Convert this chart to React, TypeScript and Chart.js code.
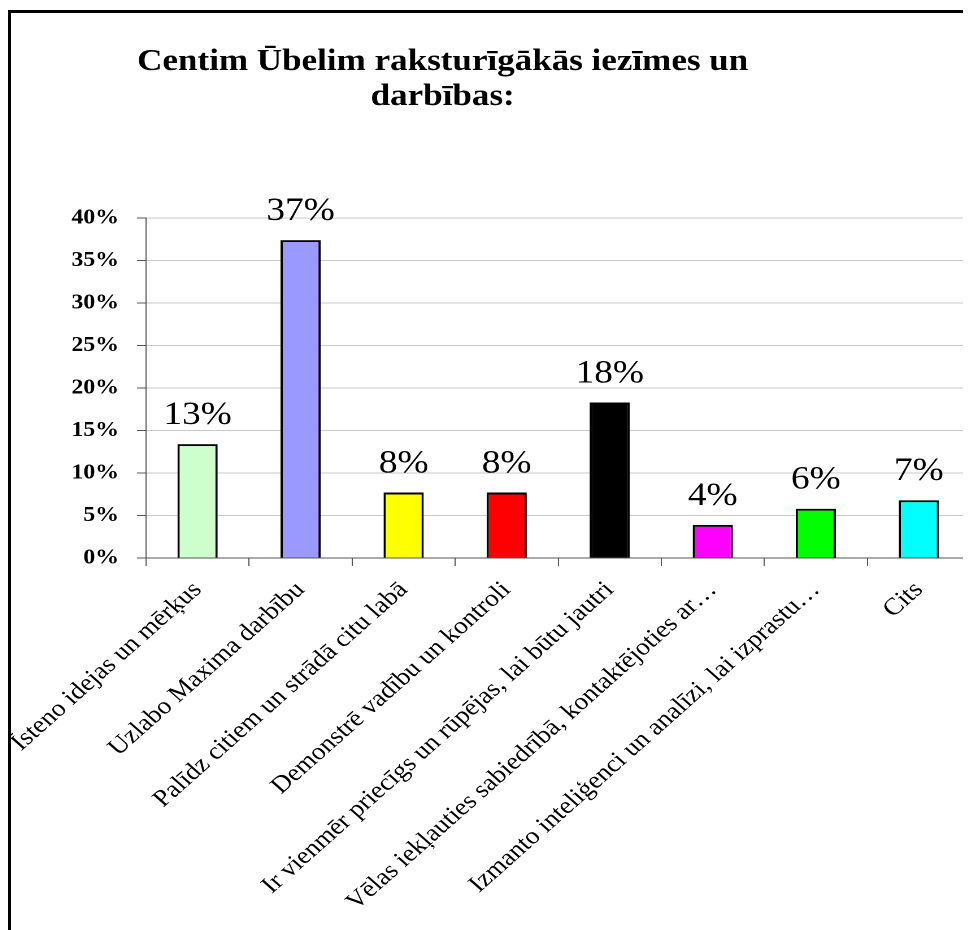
import React, { useEffect, useRef } from "react";
import { Chart, registerables } from "chart.js";

Chart.register(...registerables);

const titleLines = ["Centim Ūbelim raksturīgākās iezīmes un", "darbības:"];

const categories = [
  "Īsteno idejas un mērķus",
  "Uzlabo Maxima darbību",
  "Palīdz citiem un strādā citu labā",
  "Demonstrē vadību un kontroli",
  "Ir vienmēr priecīgs un rūpējas, lai būtu jautri",
  "Vēlas iekļauties sabiedrībā, kontaktējoties ar…",
  "Izmanto inteliģenci un analīzi, lai izprastu…",
  "Cits",
];

const values = [13.4, 37.4, 7.7, 7.7, 18.3, 3.9, 5.8, 6.8];

const barColors = [
  "#CCFFCC",
  "#9999FF",
  "#FFFF00",
  "#FF0000",
  "#000000",
  "#FF00FF",
  "#00FF00",
  "#00FFFF",
];

const yTicks = [0, 5, 10, 15, 20, 25, 30, 35, 40];

const STRETCH = 1.13;
const CW = 850;
const CH = 917;
const SERIF = "'Liberation Serif', serif";

const titlePlugin = {
  id: "customTitle",
  afterDraw(chart: any) {
    const ctx = chart.ctx;
    ctx.save();
    ctx.fillStyle = "#000";
    ctx.font = `bold 31px ${SERIF}`;
    ctx.textAlign = "center";
    ctx.textBaseline = "alphabetic";
    ctx.fillText(titleLines[0], 382, 57);
    ctx.fillText(titleLines[1], 382, 92);
    ctx.restore();
  },
};

const labelPlugin = {
  id: "barLabels",
  afterDatasetsDraw(chart: any) {
    const ctx = chart.ctx;
    const meta = chart.getDatasetMeta(0);
    ctx.save();
    ctx.fillStyle = "#000";
    ctx.font = `normal 33px ${SERIF}`;
    ctx.textAlign = "center";
    ctx.textBaseline = "alphabetic";
    meta.data.forEach((bar: any, i: number) => {
      ctx.fillText(Math.round(values[i]) + "%", bar.x, bar.y - 20);
    });
    ctx.restore();
  },
};

export default function App() {
  const ref = useRef<HTMLCanvasElement | null>(null);

  useEffect(() => {
    let chart: any = null;
    let cancelled = false;
    const loads = [
      `bold 31px 'Liberation Serif'`,
      `33px 'Liberation Serif'`,
      `bold 21px 'Liberation Serif'`,
      `24px 'Liberation Serif'`,
    ].map((f) => (document as any).fonts.load(f, "Centim Ūbelim 0123%"));
    Promise.all(loads)
      .catch(() => null)
      .then(() => {
        if (cancelled || !ref.current) return;
        chart = new Chart(ref.current, {
          type: "bar",
          data: {
            labels: categories,
            datasets: [
              {
                data: values,
                backgroundColor: barColors,
                borderColor: "#000",
                borderWidth: 2,
                categoryPercentage: 1,
                barPercentage: 0.39,
              },
            ],
          },
          options: {
            responsive: false,
            animation: false,
            devicePixelRatio: 2,
            layout: { padding: { top: 205, right: 1, bottom: 0, left: 0 } },
            plugins: {
              legend: { display: false },
              title: { display: false },
              tooltip: { enabled: false },
            },
            scales: {
              x: {
                grid: {
                  drawOnChartArea: false,
                  offset: true,
                  tickLength: 8,
                  color: "#555",
                  tickColor: "#555",
                },
                border: { color: "#555", width: 1 },
                ticks: {
                  autoSkip: false,
                  maxRotation: 45,
                  minRotation: 45,
                  padding: 10,
                  color: "#000",
                  font: { family: SERIF, size: 24 },
                },
                afterFit(scale: any) {
                  scale.height = CH - 545;
                  scale.paddingLeft = 0;
                  scale.paddingRight = 0;
                },
              },
              y: {
                min: 0,
                max: 40,
                afterBuildTicks(scale: any) {
                  scale.ticks = yTicks.map((v) => ({ value: v }));
                },
                grid: {
                  color: "#c8c8c8",
                  tickColor: "#555",
                  tickLength: 8,
                },
                border: { color: "#555", width: 1 },
                ticks: {
                  padding: 16,
                  color: "#000",
                  font: { family: SERIF, size: 21, weight: "bold" },
                  callback: (v: any) => v + "%",
                },
                afterFit(scale: any) {
                  scale.width = 119.5;
                  scale.paddingTop = 0;
                  scale.paddingBottom = 0;
                },
              },
            },
          },
          plugins: [titlePlugin, labelPlugin],
        });
      });
    return () => {
      cancelled = true;
      if (chart) chart.destroy();
    };
  }, []);

  return (
    <div
      style={{
        borderLeft: "3px solid #000",
        borderTop: "3px solid #000",
        marginTop: 2,
        width: 960,
        height: CH,
        overflow: "hidden",
        background: "#fff",
      }}
    >
      <canvas
        ref={ref}
        width={CW}
        height={CH}
        style={{
          display: "block",
          width: CW,
          height: CH,
          transform: `scaleX(${STRETCH})`,
          transformOrigin: "0 0",
        }}
      />
    </div>
  );
}
